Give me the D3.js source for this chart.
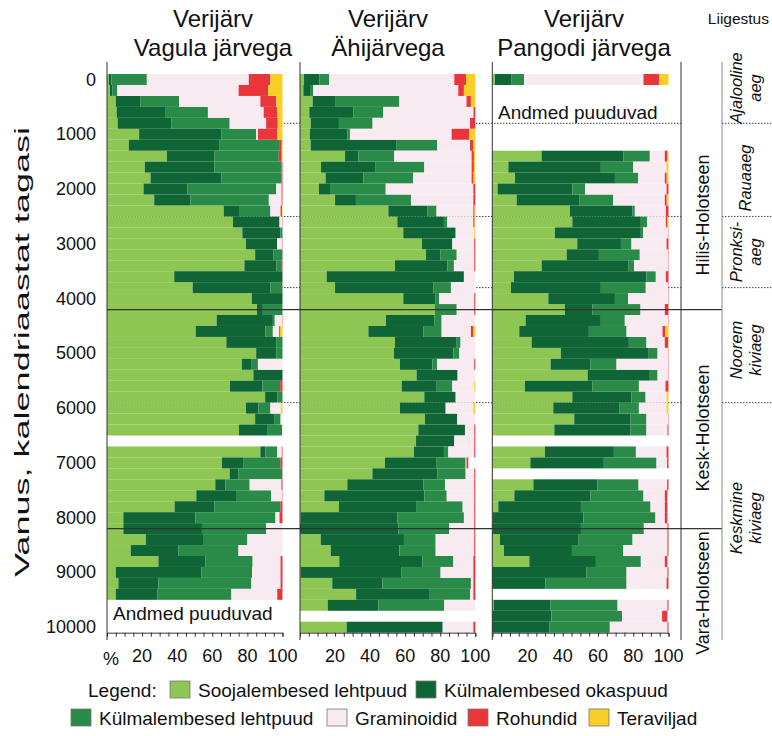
<!DOCTYPE html>
<html>
<head>
<meta charset="utf-8">
<script src="https://cdn.jsdelivr.net/npm/d3@7/dist/d3.min.js"></script>
<style>
body { margin: 0; background: #fff; }
svg { display: block; }
text { font-family: "Liberation Sans", Arial, sans-serif; fill: #111; }
</style>
</head>
<body>
<div id="chart-area"></div>
<script>
// kategooriad ja värvid
const categories = ['Soojalembesed lehtpuud', 'Külmalembesed okaspuud', 'Külmalembesed lehtpuud', 'Graminoidid', 'Rohundid', 'Teraviljad'];
const colors = ['#8dc653', '#0f6535', '#2a8b48', '#f8eaf1', '#e8363a', '#f9cf27'];

const yTicks = [0, 1000, 2000, 3000, 4000, 5000, 6000, 7000, 8000, 9000, 10000];
const xTicks = [20, 40, 60, 80, 100];

// read: [vanus, sooja, okas, lehtpuu, graminoidid, rohundid, teraviljad] (%)
const vagula = [
    [0, 1, 1.5, 20.2, 58.1, 12.3, 6.9],
    [200, 1.7, 1.5, 2.7, 69.1, 16.8, 8.2],
    [400, 5, 13.9, 22.2, 46.3, 9, 3.6],
    [600, 5.5, 28, 24, 31.8, 7.7, 3],
    [800, 6.1, 30.7, 33.1, 20.8, 6.6, 2.7],
    [1000, 18.3, 46.8, 19.9, 1, 11, 3],
    [1200, 12.4, 51.8, 34.3, 0, 1.1, 0.4],
    [1400, 34.1, 27.2, 36.6, 0, 1.7, 0.4],
    [1600, 21.5, 39.8, 38.2, 0, 0.5, 0],
    [1800, 24.8, 40.3, 34.4, 0, 0.5, 0],
    [2000, 20.8, 25.1, 50.5, 3.1, 0.5, 0],
    [2200, 26.9, 20.7, 44.6, 7.3, 0.5, 0],
    [2400, 66.5, 8.7, 17.9, 5.8, 0.8, 0.3],
    [2600, 71.8, 26.5, 0, 1.5, 0.2, 0],
    [2800, 77.1, 21.8, 1.1, 0, 0, 0],
    [3000, 79.2, 17.8, 0, 2.8, 0.2, 0],
    [3200, 84.4, 10.3, 5.3, 0, 0, 0],
    [3400, 78.3, 18.3, 2.6, 0, 0.8, 0],
    [3600, 38.3, 61.7, 0, 0, 0, 0],
    [3800, 48.8, 44.3, 6.9, 0, 0, 0],
    [4000, 82.5, 17.5, 0, 0, 0, 0],
    [4200, 85.5, 3.3, 11.2, 0, 0, 0],
    [4400, 62.5, 32, 1.1, 4.2, 0.2, 0],
    [4600, 50.5, 39.8, 4.2, 3.5, 0.5, 1.5],
    [4800, 68, 28.4, 3.6, 0, 0, 0],
    [5000, 85, 11.4, 3.6, 0, 0, 0],
    [5200, 76.8, 5.3, 3.9, 14, 0, 0],
    [5400, 83.4, 16.6, 0, 0, 0, 0],
    [5600, 70.1, 18.5, 10.1, 0, 1.3, 0],
    [5800, 90.1, 6.9, 3, 0, 0, 0],
    [6000, 79.2, 7.1, 6.8, 5.9, 0, 1],
    [6200, 84.4, 10.8, 3.7, 1.1, 0, 0],
    [6400, 75.2, 16, 8.6, 0.2, 0, 0],
    [6800, 87.4, 2.9, 6.7, 2.6, 0.4, 0],
    [7000, 65.5, 12.4, 21, 0, 1.1, 0],
    [7200, 69.9, 5.1, 24.8, 0, 0.2, 0],
    [7400, 61.7, 5.7, 13.9, 18.1, 0.6, 0],
    [7600, 50.9, 22.6, 20, 6.3, 0.2, 0],
    [7800, 38.5, 22.6, 37.8, 0, 1.1, 0],
    [8000, 9.3, 41, 45.7, 2.3, 1.7, 0],
    [8200, 9.3, 44.8, 36.6, 9.3, 0, 0],
    [8400, 22.1, 32.6, 25.3, 20, 0, 0],
    [8600, 13.5, 27.3, 34.1, 25.1, 0, 0],
    [8800, 29.3, 26.7, 27, 15.9, 1.1, 0],
    [9000, 5, 48.7, 29, 16.2, 1.1, 0],
    [9200, 6.5, 22.8, 53, 16.6, 1.1, 0],
    [9400, 5, 23.6, 42.3, 26.1, 3, 0]
];

const ahijarv = [
    [0, 2.3, 8.7, 5.7, 71.3, 6.7, 5.3],
    [200, 1.9, 3.8, 1.9, 82.7, 3.2, 6.5],
    [400, 7.2, 12.8, 36.7, 38.3, 2.5, 2.5],
    [600, 5.3, 25.1, 17.1, 51.5, 1, 0],
    [800, 6.1, 16.1, 19.2, 55.6, 3, 0],
    [1000, 5.7, 21.3, 1.5, 58, 10.1, 3.4],
    [1200, 6.1, 48.7, 23.5, 18.7, 1.7, 1.3],
    [1400, 25.7, 7.6, 20.5, 44.1, 1.3, 0.8],
    [1600, 12, 31.2, 27.7, 27, 1.3, 0.8],
    [1800, 14.6, 21.5, 28.5, 33.3, 1.1, 1],
    [2000, 10.8, 6.3, 31.8, 50, 1.1, 0],
    [2200, 20, 11.9, 31.4, 35.6, 1.1, 0],
    [2400, 50.4, 22.4, 5.1, 21, 0.7, 0.4],
    [2600, 55.5, 26.6, 1.9, 14.9, 0.7, 0.4],
    [2800, 58.9, 29.9, 0, 10.6, 0, 0.6],
    [3000, 69.6, 17.3, 0, 12.5, 0.6, 0],
    [3200, 71.9, 8.3, 9.2, 10, 0.6, 0],
    [3400, 54.2, 29.8, 3.8, 11.6, 0.6, 0],
    [3600, 15.2, 78.3, 0, 6.5, 0, 0],
    [3800, 20, 56, 10.1, 13.9, 0, 0],
    [4000, 58.9, 18.5, 1.9, 20.1, 0.6, 0],
    [4200, 77, 0, 12.4, 10, 0.6, 0],
    [4400, 49, 27.6, 4.2, 19.2, 0, 0],
    [4600, 39, 31.3, 10.5, 16.7, 1.4, 1.1],
    [4800, 54.2, 35.2, 2.2, 8.4, 0, 0],
    [5000, 53.6, 33.9, 3.4, 9.1, 0, 0],
    [5200, 57, 18.5, 2.8, 21.1, 0.6, 0],
    [5400, 66.5, 23.4, 0, 10.1, 0, 0],
    [5600, 58, 20, 8.9, 12.5, 0, 0.6],
    [5800, 70.9, 17.9, 0, 11.2, 0, 0],
    [6000, 57, 26.1, 0, 15.8, 0, 1.1],
    [6200, 71.3, 18.4, 0, 10.3, 0, 0],
    [6400, 67.5, 26.6, 0, 5.3, 0.6, 0],
    [6600, 66.2, 21.8, 0, 11.4, 0.6, 0],
    [6800, 65, 17.1, 2.5, 14.8, 0.6, 0],
    [7000, 48.5, 29.5, 16.5, 0.5, 1, 0],
    [7200, 41.3, 37.2, 16, 4.9, 0.6, 0],
    [7400, 27, 43.3, 12.4, 16.7, 0.6, 0],
    [7600, 13.9, 57, 12.8, 15.7, 0.6, 0],
    [7800, 22.2, 44, 26.6, 6.6, 0.6, 0],
    [8000, 0.4, 55.1, 38, 5.9, 0.6, 0],
    [8200, 0, 56.1, 29.1, 14.2, 0.6, 0],
    [8400, 11.8, 47.5, 18.1, 22, 0.6, 0],
    [8600, 17.5, 39.2, 20.7, 22, 0.6, 0],
    [8800, 22.4, 47.4, 17.7, 11.4, 1.1, 0],
    [9000, 0.4, 57.6, 22.2, 18.7, 1.1, 0],
    [9200, 18.4, 28.6, 50.5, 1.4, 1.1, 0],
    [9400, 32, 41.6, 23.4, 1.9, 1.1, 0],
    [9600, 15.8, 28.9, 37.6, 17.7, 0, 0],
    [10000, 26.6, 54.8, 0, 17.5, 1.1, 0]
];

const pangodi = [
    [0, 1.5, 9.5, 7, 67.8, 8.9, 5.3],
    [1400, 28, 46.3, 15.1, 8.5, 1.5, 0.6],
    [1600, 9.1, 52.5, 18.4, 18.9, 0, 1.1],
    [1800, 12.9, 56.7, 13.2, 15.1, 1.1, 1],
    [2000, 3, 42.4, 7.2, 46.3, 1.1, 0],
    [2200, 13.8, 35.5, 19.3, 29.3, 1.1, 1],
    [2400, 44, 35.6, 1.3, 17.6, 1.5, 0],
    [2600, 45.4, 38.9, 3.6, 10.6, 0.9, 0.6],
    [2800, 35.5, 48.8, 1.3, 14.2, 0.2, 0],
    [3000, 48.2, 24.8, 6, 19.9, 1.1, 0],
    [3200, 42.2, 18.3, 23.2, 16.1, 0.2, 0],
    [3400, 28, 49.1, 3.4, 19.3, 0.2, 0],
    [3600, 12.3, 75.2, 5.3, 5.7, 1.5, 0],
    [3800, 10.6, 51, 25.5, 12.7, 0.2, 0],
    [4000, 31.8, 37.8, 7.5, 22.7, 0.2, 0],
    [4200, 41.2, 15.7, 27.2, 13.8, 2.1, 0],
    [4400, 18.9, 42.7, 13.6, 24.6, 0.2, 0],
    [4600, 15.3, 39.5, 21.4, 20.4, 1.5, 1.9],
    [4800, 22.3, 55.2, 10, 10.4, 1.9, 0.2],
    [5000, 38.9, 49.9, 5, 6, 0.2, 0],
    [5200, 33.1, 22.7, 14.7, 29.3, 0.2, 0],
    [5400, 54.1, 35.3, 4.4, 6, 0.2, 0],
    [5600, 18.5, 38.4, 26.3, 15.1, 1.7, 0],
    [5800, 45.4, 33.6, 8, 11.9, 0, 1.1],
    [6000, 34.6, 37.4, 11.2, 15.7, 0, 1.1],
    [6200, 46.5, 32, 9, 12.3, 0.2, 0],
    [6400, 35.2, 43.3, 9, 11.9, 0.6, 0],
    [6800, 29.9, 39.1, 12.5, 17.4, 1.1, 0],
    [7000, 21.6, 41.7, 29.9, 6, 0.8, 0],
    [7400, 23.3, 36.4, 23.3, 16.2, 0.8, 0],
    [7600, 12.5, 43.3, 30, 12.1, 1.5, 0],
    [7800, 3.4, 46.9, 39.5, 8.1, 1.5, 0],
    [8000, 0.4, 51.4, 40.8, 5.3, 1.5, 0],
    [8200, 0, 50.3, 35.7, 13.4, 0.6, 0],
    [8400, 4.3, 44.7, 30.6, 19.8, 0.6, 0],
    [8600, 6.6, 38.6, 29.1, 25.1, 0.6, 0],
    [8800, 21, 37.8, 25.5, 13.6, 1.5, 0],
    [9000, 0, 53.5, 22.7, 23.2, 0.6, 0],
    [9200, 0, 30.2, 46, 22.7, 1.1, 0],
    [9600, 0.8, 32.1, 38.2, 28.3, 0.6, 0],
    [9800, 0, 33.6, 40.1, 22.7, 3, 0],
    [10000, 0, 32.3, 34.4, 32.7, 0.6, 0]
];

const titles = [['Verijärv', 'Vagula järvega'], ['Verijärv', 'Ähijärvega'], ['Verijärv', 'Pangodi järvega']];
const step = 200; // proovide vahe aastates

// liigestus
const boundaries = [4200, 8200];
const dotted = [800, 2500, 3800, 5900];
const epochs = ['Hilis-Holotseen', 'Kesk-Holotseen', 'Vara-Holotseen'];
const periods = [['Ajalooline', 'aeg'], ['Rauaaeg'], ['Pronksi-', 'aeg'], ['Noorem', 'kiviaeg'], ['Keskmine', 'kiviaeg']];

const width = 772, height = 736;
const svg = d3.select('#chart-area').append('svg')
    .attr('width', width).attr('height', height);

const yScale = d3.scaleLinear().domain([0, 10000]).range([79.5, 627.2]);

const panels = [
    { data: vagula, x0: 107, x1: 282.5, title: titles[0], titleX: 213 },
    { data: ahijarv, x0: 300, x1: 475.3, title: titles[1], titleX: 388 },
    { data: pangodi, x0: 492.3, x1: 668.5, title: titles[2], titleX: 584 }
];

const stack = d3.stack().keys(d3.range(categories.length)).value((d, k) => d[k + 1]);

// punktiirjooned (taustal)
const dotG = svg.append('g');
dotted.forEach(a => {
    [[107, 681], [722, 772]].forEach(([a0, a1]) => {
        dotG.append('line')
            .attr('x1', a0).attr('x2', a1)
            .attr('y1', yScale(a)).attr('y2', yScale(a))
            .attr('stroke', '#444').attr('stroke-width', 1)
            .attr('stroke-dasharray', '1.5,1.5');
    });
});

panels.forEach((p, i) => {
    const xScale = d3.scaleLinear().domain([0, 100]).range([p.x0, p.x1]);
    const g = svg.append('g');
    const series = stack(p.data);

    g.selectAll('g.serie')
        .data(series)
        .enter().append('g')
        .attr('fill', (d, k) => colors[k])
        .selectAll('rect')
        .data(d => d)
        .enter().append('rect')
        .attr('x', d => xScale(d[0]))
        .attr('width', d => Math.max(0, xScale(d[1]) - xScale(d[0])))
        .attr('y', d => yScale(d.data[0] - step / 2))
        .attr('height', d => yScale(d.data[0] + step / 2) - yScale(d.data[0] - step / 2));

    // x-telg
    const axis = g.append('g')
        .attr('transform', `translate(0, ${yScale(10100)})`)
        .call(d3.axisBottom(xScale).tickValues(d3.range(0, 101, 5)).tickSize(4).tickFormat(''));
    axis.select('.domain').attr('stroke', '#333');
    axis.selectAll('.tick line').attr('stroke', '#333');

    g.selectAll('.xlab')
        .data(xTicks)
        .enter().append('text')
        .attr('x', d => xScale(d))
        .attr('y', 662)
        .attr('text-anchor', 'middle')
        .attr('font-size', 18)
        .text(d => d);

    // vasak telg
    g.append('line')
        .attr('x1', p.x0).attr('x2', p.x0)
        .attr('y1', 62).attr('y2', 640)
        .attr('stroke', '#333');

    // pealkiri
    g.selectAll('.title')
        .data(p.title)
        .enter().append('text')
        .attr('x', p.titleX)
        .attr('y', (d, j) => 27 + j * 29)
        .attr('text-anchor', 'middle')
        .attr('font-size', 24)
        .text(d => d);
});

svg.append('text').attr('x', 103).attr('y', 665).attr('font-size', 18).text('%');

// andmed puuduvad
svg.append('text').attr('x', 113).attr('y', 620).attr('font-size', 19).text('Andmed puuduvad');
svg.append('text').attr('x', 498).attr('y', 119).attr('font-size', 19).text('Andmed puuduvad');

// y-telg
svg.selectAll('.ylab')
    .data(yTicks)
    .enter().append('text')
    .attr('x', 96)
    .attr('y', d => yScale(d) + 6)
    .attr('text-anchor', 'end')
    .attr('font-size', 18)
    .text(d => d);

svg.append('text')
    .attr('transform', 'translate(29, 352) rotate(-90)')
    .attr('text-anchor', 'middle')
    .attr('font-size', 21)
    .attr('textLength', 450)
    .attr('lengthAdjust', 'spacingAndGlyphs')
    .text('Vanus, kalendriaastat tagasi');

// piirjooned 4200 ja 8200
boundaries.forEach(a => {
    svg.append('line')
        .attr('x1', 107).attr('x2', 722)
        .attr('y1', yScale(a)).attr('y2', yScale(a))
        .attr('stroke', '#333').attr('stroke-width', 1.2);
});

// liigestus
svg.append('text').attr('x', 769).attr('y', 24).attr('text-anchor', 'end').attr('font-size', 15.5).text('Liigestus');
svg.append('line').attr('x1', 681).attr('x2', 681).attr('y1', 62).attr('y2', 640).attr('stroke', '#333');
svg.append('line').attr('x1', 722).attr('x2', 722).attr('y1', 62).attr('y2', 640).attr('stroke', '#888');

const epochY = [215, 428, 593];
epochs.forEach((e, i) => {
    svg.append('text')
        .attr('transform', `translate(709, ${epochY[i]}) rotate(-90)`)
        .attr('text-anchor', 'middle')
        .attr('font-size', 18)
        .text(e);
});

const periodY = [88, 178, 252, 350, 518];
periods.forEach((lines, i) => {
    const t = svg.append('text')
        .attr('transform', `translate(745, ${periodY[i]}) rotate(-90)`)
        .attr('text-anchor', 'middle')
        .attr('font-size', 16.5)
        .attr('font-style', 'italic');
    lines.forEach((l, j) => {
        t.append('tspan')
            .attr('x', 0)
            .attr('y', lines.length === 1 ? 6 : -3 + j * 19)
            .text(l);
    });
});

// legend
const legendItems = [
    { k: 0, x: 170, y: 690 }, { k: 1, x: 416, y: 690 },
    { k: 2, x: 71, y: 718 }, { k: 3, x: 327, y: 718 },
    { k: 4, x: 468, y: 718 }, { k: 5, x: 589, y: 718 }
];
svg.append('text').attr('x', 88).attr('y', 697).attr('font-size', 19).text('Legend:');
legendItems.forEach(it => {
    svg.append('rect')
        .attr('x', it.x).attr('y', it.y - 9)
        .attr('width', 20).attr('height', 17)
        .attr('fill', colors[it.k]).attr('stroke', '#777').attr('stroke-width', 0.8);
    svg.append('text')
        .attr('x', it.x + 28).attr('y', it.y + 7)
        .attr('font-size', 19)
        .text(categories[it.k]);
});
</script>
</body>
</html>
